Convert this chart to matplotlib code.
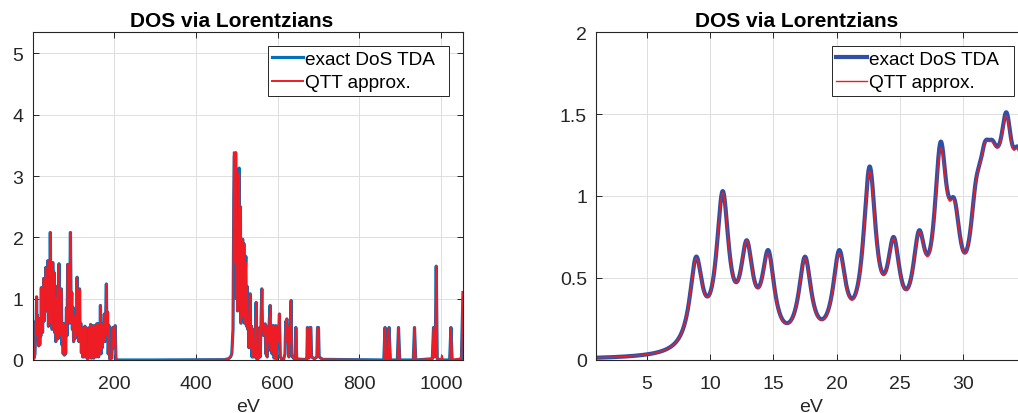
import numpy as np
import matplotlib
matplotlib.use("Agg")
import matplotlib.pyplot as plt

plt.rcParams['font.family'] = ['Liberation Sans', 'DejaVu Sans']

# ---------------- data: left panel (full spectrum, eV vs DOS) ----------------
left_ev = [1, 5, 7, 8, 8.9, 9.7, 11, 12.1, 12.9, 13.8, 14.6, 16.2, 17.5, 18.8, 20.2, 21.3,
           22.6, 23.6, 24.5, 25.6, 26.5, 27.2, 28.2, 29.2, 30.2, 32, 32.9, 33.5, 34.5,
           35.7, 37, 38.5, 40, 42, 43, 44.5, 46, 47.5, 49, 50.5, 52, 53.5, 55, 56.5, 58,
           59.5, 61, 62.5, 64, 65.8, 67.3, 68.5, 70, 71.5, 73, 74.5, 76, 77.5, 79, 80.5,
           82, 84, 85.5, 87, 88.5, 90, 91.5, 93.7, 95.5, 97, 98.5, 100, 101.5, 103.5, 105,
           107, 108.5, 110, 111.5, 113, 114.5, 116, 117.5, 119, 120.5, 122, 123.5, 125.3,
           127, 129, 130.5, 132, 134, 136, 138, 140, 141.5, 143, 144.5, 146, 147.5, 149,
           150.5, 152, 153.5, 155, 156.5, 158, 159.5, 161, 162.5, 164, 165.5, 167, 168.5,
           170, 171.5, 173, 174.5, 176.5, 178, 179.5, 181.5, 183, 184.5, 186, 188, 189.5,
           191, 193, 195, 197, 198.6, 200, 201.5, 203, 205, 210, 300, 470, 480, 485, 488,
           491, 493, 494.5, 496, 497.5, 499, 500.5, 502, 503.5, 505, 506, 507.5, 509,
           510.5, 512, 513.5, 514.5, 516, 517.5, 519, 520.5, 522.3, 524, 525.5, 527, 528.5,
           530, 532.8, 534.5, 536, 537.5, 539, 540.5, 542, 544, 546, 547.5, 549, 552, 554,
           556, 557.5, 559, 561.4, 563, 564.5, 566, 567.5, 569.5, 571, 573, 574.5, 576,
           577.5, 579, 581.7, 583, 585, 586.5, 588, 589.8, 591.5, 594, 595.6, 597.5, 600,
           601.5, 604.5, 606.5, 610, 615, 618, 620, 621.5, 622.5, 624, 626, 627.5, 629,
           631, 633, 634.5, 636, 638, 641, 643, 644.5, 646.5, 660, 670, 671.5, 672.9, 674.5,
           676, 678, 679.5, 681.2, 683, 690, 696, 697.5, 699.8, 701.5, 710, 855, 859.5,
           862.5, 865.5, 869.5, 872.3, 875.5, 892.5, 895.4, 898.5, 931.5, 934.5, 937.5,
           978, 981, 983, 985, 987.6, 990, 999.5, 1001.5, 1003.5, 1020.5, 1023.5, 1026.5,
           1049, 1053]
left_exact = [0.02, 0.03, 0.1, 0.3, 0.63, 0.41, 1.03, 0.5, 0.73, 0.47, 0.67, 0.23, 0.63, 0.25,
              0.67, 0.39, 1.18, 0.53, 0.75, 0.45, 0.79, 0.63, 1.33, 0.98, 0.64, 1.34, 1.30,
              1.51, 1.25, 1.5, 0.8, 1.62, 0.55, 1.1, 0.6, 2.08, 0.9, 1.45, 0.5, 1.59, 0.8,
              1.43, 0.45, 1.02, 0.3, 1.0, 0.5, 1.21, 0.35, 1.57, 0.4, 0.9, 0.45, 1.16, 0.25,
              0.59, 0.1, 0.59, 0.08, 0.55, 0.1, 0.85, 0.4, 1.56, 0.7, 1.3, 0.6, 2.08, 0.8,
              1.1, 0.5, 0.86, 0.3, 0.72, 0.35, 0.8, 0.4, 1.35, 0.6, 0.8, 0.3, 1.16, 0.3, 0.6,
              0.12, 0.53, 0.05, 0.53, 0.05, 0.55, 0.15, 0.53, 0.03, 0.02, 0.05, 0.53, 0.05,
              0.58, 0.03, 0.56, 0.1, 0.55, 0.03, 0.56, 0.2, 0.55, 0.05, 0.59, 0.3, 0.59, 0.05,
              0.5, 0.2, 0.89, 0.1, 0.55, 0.2, 0.59, 0.3, 0.75, 0.3, 0.6, 1.24, 0.4, 0.78, 0.1,
              0.56, 0.02, 0.05, 0.03, 0.03, 0.53, 0.2, 0.53, 0.3, 0.56, 0.01, 0.0, 0.0, 0.005,
              0.02, 0.05, 0.1, 0.5, 2.7, 3.33, 1.6, 3.38, 1.0, 2.3, 0.8, 2.0, 1.0, 3.13, 0.9,
              2.5, 0.6, 1.5, 0.7, 1.97, 0.8, 1.9, 0.6, 1.3, 1.69, 0.55, 1.2, 0.5, 0.7, 0.2,
              1.08, 0.2, 0.55, 0.05, 0.5, 0.05, 0.1, 0.05, 0.6, 0.94, 0.02, 0.02, 0.05, 0.53,
              0.05, 0.5, 1.16, 0.5, 0.55, 0.4, 0.55, 0.59, 0.1, 0.55, 0.05, 0.53, 0.3, 0.55,
              0.89, 0.15, 0.55, 0.1, 0.56, 0.56, 0.03, 0.53, 0.56, 0.02, 0.5, 0.3, 0.75, 0.05,
              0.01, 0.02, 0.1, 0.63, 0.4, 0.67, 0.3, 0.55, 0.05, 0.5, 0.3, 0.97, 0.1, 0.05,
              0.05, 0.01, 0.05, 0.53, 0.02, 0.01, 0.01, 0.05, 0.53, 0.05, 0.03, 0.05, 0.53,
              0.53, 0.05, 0.02, 0.05, 0.53, 0.53, 0.05, 0.01, 0.0, 0.0, 0.53, 0.0, 0.0, 0.53,
              0.0, 0.0, 0.53, 0.0, 0.0, 0.53, 0.0, 0.02, 0.53, 0.05, 0.1, 1.53, 0.02, 0.0,
              0.0, 0.0, 0.0, 0.53, 0.0, 0.0, 1.1]
# QTT approximation differs from the exact DOS only at a few points (eV -> value)
left_qtt_diff = {493: 3.39, 494.5: 2.7, 497.5: 3.39, 506: 3.05, 522.3: 1.6,
                 1001.5: 0.07, 985: 0.05, 1049: 0.03}
left_qtt = [left_qtt_diff.get(x, y) for x, y in zip(left_ev, left_exact)]

# ---------------- data: right panel (low-energy zoom, Lorentzian peaks) ----------------
right_centers = [8.9, 11.0, 12.9, 14.6, 17.5, 20.2, 22.6, 24.5, 26.5, 28.2, 29.3,
                 31.0, 31.7, 32.3, 32.8, 33.4, 34.3, 35.2, 36.2]
right_exact_h = [0.63, 1.03, 0.73, 0.67, 0.63, 0.67, 1.18, 0.75, 0.79, 1.33, 0.98,
                 1.10, 1.33, 1.34, 1.31, 1.51, 1.30, 1.35, 1.4]
right_qtt_h = [0.62, 1.02, 0.73, 0.65, 0.62, 0.65, 1.15, 0.74, 0.78, 1.29, 0.97,
               1.09, 1.32, 1.33, 1.30, 1.49, 1.29, 1.35, 1.4]
lorentz_gamma = 0.6  # eV

left_yticks = [0, 1, 2, 3, 4, 5]
left_xticks = [200, 400, 600, 800, 1000]
right_yticks = [0, 0.5, 1, 1.5, 2]
right_yticklabels = ["0", "0.5", "1", "1.5", "2"]
right_xticks = [5, 10, 15, 20, 25, 30]
legend_labels = ["exact DoS TDA", "QTT approx."]
title_text = "DOS via Lorentzians"


def lorentz_curve(x, centers, heights, g):
    c = np.asarray(centers)
    M = g**2 / ((c[:, None] - c[None, :])**2 + g**2)
    amps = np.linalg.solve(M, np.asarray(heights))
    return (amps[None, :] * g**2 / ((x[:, None] - c[None, :])**2 + g**2)).sum(axis=1)


W, H = 1018, 414
fig = plt.figure(figsize=(W / 100, H / 100), dpi=100)

axc = '#262626'
gridc = '#DEDEDE'
FS = 14


def style(ax, title_x):
    ax.grid(True, color=gridc, lw=0.7)
    ax.set_axisbelow(True)
    for s in ax.spines.values():
        s.set_color(axc)
        s.set_linewidth(0.8)
    ax.tick_params(direction='in', top=True, right=True, length=4, width=0.7,
                   color=axc, labelcolor=axc, labelsize=FS)
    ax.tick_params(axis='x', pad=11)
    ax.tick_params(axis='y', pad=6.5)
    ax.set_title(title_text, fontsize=15, fontweight='bold', color='#000000', pad=4,
                 x=title_x)
    ax.set_xlabel("eV", fontsize=FS, color=axc, labelpad=4)


def add_legend(ax, x0, w):
    leg = ax.legend(loc='upper right', bbox_to_anchor=(x0, 0.5, w, 0.458),
                    mode='expand', borderaxespad=0,
                    fontsize=13.7, fancybox=False, framealpha=1, edgecolor=axc,
                    handlelength=1.58, handletextpad=0.12, labelspacing=0.32,
                    borderpad=0.25)
    leg.get_frame().set_linewidth(0.7)
    for t in leg.get_texts():
        t.set_color('#000000')


# Left panel
ax1 = fig.add_axes([32.5 / W, (H - 361) / H, 430.5 / W, 328 / H])
ax1.plot(left_ev, left_exact, color='#0072BD', lw=2.3, label=legend_labels[0])
ax1.plot(left_ev, left_qtt, color='#EE1C25', lw=1.4, label=legend_labels[1])
ax1.set_xlim(1, 1053)
ax1.set_ylim(0, 5.35)
ax1.set_xticks(left_xticks)
ax1.set_yticks(left_yticks)
style(ax1, 0.463)
add_legend(ax1, 0.5464, 0.4218)

# Right panel
xr = np.linspace(1, 35, 1400)
ax2 = fig.add_axes([596 / W, (H - 361) / H, 430.7 / W, 328 / H])
ax2.plot(xr, lorentz_curve(xr, right_centers, right_exact_h, lorentz_gamma),
         color='#3050A5', lw=3.0, label=legend_labels[0])
ax2.plot(xr, lorentz_curve(xr, right_centers, right_qtt_h, lorentz_gamma),
         color='#EE1C25', lw=1.0, label=legend_labels[1])
ax2.set_xlim(1, 35)
ax2.set_ylim(0, 2)
ax2.set_xticks(right_xticks)
ax2.set_yticks(right_yticks)
ax2.set_yticklabels(right_yticklabels)
style(ax2, 0.466)
add_legend(ax2, 0.5473, 0.424)

fig.savefig("out.png", dpi=100)
